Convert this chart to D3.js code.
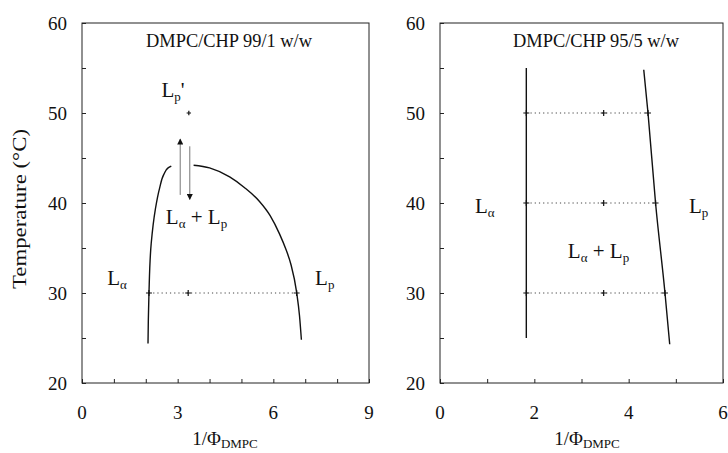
<!DOCTYPE html>
<html>
<head>
<meta charset="utf-8">
<script src="https://cdn.jsdelivr.net/npm/d3@7"></script>
<style>
	body { margin: 0; background: #fff; }
	svg { display: block; }
	text { font-family: "Liberation Serif", "Times New Roman", serif; fill: #111; }
</style>
</head>
<body>
<div id="chart"></div>
<script>
var WIDTH = 728;
var HEIGHT = 453;

// axis domains and ticks
var T_DOMAIN = [20, 60];
var T_TICKS = [20, 30, 40, 50, 60];
var T_MINOR = [25, 35, 45, 55];
var LEFT_X_DOMAIN = [0, 9];
var LEFT_X_TICKS = [0, 3, 6, 9];
var LEFT_X_MINOR = [1, 2, 4, 5, 7, 8];
var RIGHT_X_DOMAIN = [0, 6];
var RIGHT_X_TICKS = [0, 2, 4, 6];
var RIGHT_X_MINOR = [1, 3, 5];

// DMPC/CHP 99/1 w/w : phase boundaries [1/phi, T]
var leftAlphaBoundary = [[2.07, 24.4], [2.08, 27.0], [2.10, 30.0], [2.17, 35.5], [2.30, 39.3], [2.43, 41.6], [2.57, 43.2], [2.70, 43.9], [2.80, 44.1]];
var leftRippleBoundary = [[3.50, 44.2], [4.00, 43.9], [4.63, 42.9], [5.10, 41.7], [5.56, 40.2], [5.90, 38.6], [6.19, 36.6], [6.40, 34.8], [6.55, 33.2], [6.73, 30.1], [6.82, 27.5], [6.88, 24.8]];
var leftTieTemps = [30];
var leftTieEnds = [[2.10, 6.73]];
var leftPoints = [[2.10, 30], [3.33, 30], [6.73, 30]];
var leftSmallPoints = [[3.35, 50]];
// heating / cooling arrows [x, from T, to T]
var leftArrows = [[3.08, 40.9, 47.1], [3.38, 46.3, 40.4]];

// DMPC/CHP 95/5 w/w
var rightAlphaBoundary = [[1.83, 25.0], [1.83, 55.0]];
var rightRippleBoundary = [[4.32, 54.8], [4.41, 50.0], [4.57, 40.0], [4.77, 30.0], [4.87, 24.3]];
var rightTieTemps = [50, 40, 30];
var rightTieEnds = [[1.83, 4.41], [1.83, 4.57], [1.83, 4.77]];
var rightPoints = [[1.83, 50], [3.47, 50], [4.41, 50], [1.83, 40], [3.47, 40], [4.57, 40], [1.83, 30], [3.47, 30], [4.77, 30]];

var leftTitle = "DMPC/CHP 99/1 w/w";
var rightTitle = "DMPC/CHP 95/5 w/w";

// phase labels: [text, is subscript], anchored at [1/phi, T]
var leftLabels = [
	{parts: [["L", 0], ["p", 1], ["'", 0]], x: 2.49, t: 51.8},
	{parts: [["L", 0], ["\u03b1", 1], [" + L", 0], ["p", 1]], x: 2.63, t: 37.7},
	{parts: [["L", 0], ["\u03b1", 1]], x: 0.79, t: 30.9},
	{parts: [["L", 0], ["p", 1]], x: 7.31, t: 30.9}
];
var rightLabels = [
	{parts: [["L", 0], ["\u03b1", 1]], x: 0.74, t: 38.9},
	{parts: [["L", 0], ["p", 1]], x: 5.28, t: 38.9},
	{parts: [["L", 0], ["\u03b1", 1], [" + L", 0], ["p", 1]], x: 2.71, t: 33.9}
];

var svg = d3.select("#chart").append("svg")
	.attr("width", WIDTH)
	.attr("height", HEIGHT);

var defs = svg.append("defs");
defs.append("marker")
	.attr("id", "head")
	.attr("viewBox", "0 0 10 10")
	.attr("refX", 9)
	.attr("refY", 5)
	.attr("markerWidth", 8)
	.attr("markerHeight", 6)
	.attr("markerUnits", "userSpaceOnUse")
	.attr("orient", "auto")
	.append("path")
	.attr("d", "M0,0 L10,5 L0,10 Z")
	.attr("fill", "#111");

var y = d3.scaleLinear().domain(T_DOMAIN).range([383, 23]);

function plus(g, pts, x, size) {
	g.selectAll(null)
		.data(pts)
		.enter()
		.append("path")
		.attr("d", d => "M" + (x(d[0]) - size) + "," + y(d[1]) + "H" + (x(d[0]) + size) +
			"M" + x(d[0]) + "," + (y(d[1]) - size) + "V" + (y(d[1]) + size))
		.attr("stroke", "#111")
		.attr("stroke-width", 1.2);
}

function phaseLabels(g, labels, x) {
	labels.forEach(function(l) {
		var t = g.append("text")
			.attr("x", x(l.x))
			.attr("y", y(l.t))
			.style("font-size", "21px");
		l.parts.forEach(function(p, i) {
			var s = t.append("tspan").text(p[0]);
			if(p[1]) s.style("font-size", "13px").attr("dy", 4);
			else if(i > 0) s.attr("dy", -4);
		});
	});
}

function panel(opts) {
	var x = d3.scaleLinear().domain(opts.domain).range(opts.range);
	var g = svg.append("g");

	// frame
	g.append("rect")
		.attr("x", x(opts.domain[0]))
		.attr("y", y(T_DOMAIN[1]))
		.attr("width", x(opts.domain[1]) - x(opts.domain[0]))
		.attr("height", y(T_DOMAIN[0]) - y(T_DOMAIN[1]))
		.attr("fill", "none")
		.attr("stroke", "#222")
		.attr("stroke-width", 1);

	// bottom axis, ticks inside
	var xAxis = d3.axisBottom(x).tickValues(opts.ticks.concat(opts.minor)).tickSize(-4).tickFormat("");
	g.append("g").attr("transform", "translate(0," + y(T_DOMAIN[0]) + ")").call(xAxis)
		.call(a => a.select(".domain").remove())
		.call(a => a.selectAll("line").attr("stroke", "#222"));
	g.selectAll(".xlab")
		.data(opts.ticks)
		.enter()
		.append("text")
		.attr("x", d => x(d))
		.attr("y", 419)
		.attr("text-anchor", "middle")
		.style("font-size", "19px")
		.text(d => d);

	var yAxis = d3.axisLeft(y).tickValues(T_TICKS.concat(T_MINOR)).tickSize(-4).tickFormat("");
	g.append("g").attr("transform", "translate(" + x(opts.domain[0]) + ",0)").call(yAxis)
		.call(a => a.select(".domain").remove())
		.call(a => a.selectAll("line").attr("stroke", "#222"));
	g.selectAll(".ylab")
		.data(T_TICKS)
		.enter()
		.append("text")
		.attr("x", x(opts.domain[0]) - 15)
		.attr("y", d => y(d) + 6.5)
		.attr("text-anchor", "end")
		.style("font-size", "19px")
		.text(d => d);

	// x axis title
	var xt = g.append("text")
		.attr("x", opts.xTitleX)
		.attr("y", 445)
		.attr("text-anchor", "middle")
		.style("font-size", "19px");
	xt.append("tspan").text("1/\u03a6");
	xt.append("tspan").attr("dy", 3).style("font-size", "13px").text("DMPC");

	// panel title
	g.append("text")
		.attr("x", opts.titleX)
		.attr("y", 47)
		.attr("text-anchor", "middle")
		.attr("textLength", 166)
		.attr("lengthAdjust", "spacingAndGlyphs")
		.style("font-size", "18px")
		.text(opts.title);

	// tie lines
	g.selectAll(".tie")
		.data(opts.tieTemps)
		.enter()
		.append("line")
		.attr("x1", (d, i) => x(opts.tieEnds[i][0]))
		.attr("x2", (d, i) => x(opts.tieEnds[i][1]))
		.attr("y1", d => y(d))
		.attr("y2", d => y(d))
		.attr("stroke", "#444")
		.attr("stroke-width", 1)
		.attr("stroke-dasharray", "1.2,3");

	// boundaries: the fluid-side one rises with T, the ripple-side one falls with 1/phi
	opts.boundaries.forEach(function(b, i) {
		var gen = d3.line().x(d => x(d[0])).y(d => y(d[1]));
		if(b.length > 2) gen.curve(i === 0 ? d3.curveMonotoneY : d3.curveMonotoneX);
		g.append("path")
			.attr("d", gen(b))
			.attr("fill", "none")
			.attr("stroke", "#111")
			.attr("stroke-width", 1.4);
	});

	plus(g, opts.points, x, 3);
	if(opts.small) plus(g, opts.small, x, 2.2);

	if(opts.arrows) {
		g.selectAll(".arrow")
			.data(opts.arrows)
			.enter()
			.append("line")
			.attr("x1", d => x(d[0]))
			.attr("x2", d => x(d[0]))
			.attr("y1", d => y(d[1]))
			.attr("y2", d => y(d[2]))
			.attr("stroke", "#777")
			.attr("stroke-width", 1)
			.attr("marker-end", "url(#head)");
	}

	phaseLabels(g, opts.labels, x);
	return x;
}

panel({
	domain: LEFT_X_DOMAIN, range: [82, 369], ticks: LEFT_X_TICKS, minor: LEFT_X_MINOR,
	title: leftTitle, titleX: 229, xTitleX: 225,
	tieTemps: leftTieTemps, tieEnds: leftTieEnds,
	boundaries: [leftAlphaBoundary, leftRippleBoundary],
	points: leftPoints, small: leftSmallPoints, arrows: leftArrows,
	labels: leftLabels
});

panel({
	domain: RIGHT_X_DOMAIN, range: [440, 723], ticks: RIGHT_X_TICKS, minor: RIGHT_X_MINOR,
	title: rightTitle, titleX: 596, xTitleX: 587,
	tieTemps: rightTieTemps, tieEnds: rightTieEnds,
	boundaries: [rightAlphaBoundary, rightRippleBoundary],
	points: rightPoints,
	labels: rightLabels
});

// y axis title (left panel only)
svg.append("text")
	.attr("transform", "translate(26,209) rotate(-90)")
	.attr("text-anchor", "middle")
	.attr("textLength", 160)
	.attr("lengthAdjust", "spacingAndGlyphs")
	.style("font-size", "19px")
	.text("Temperature (\u00b0C)");
</script>
</body>
</html>
